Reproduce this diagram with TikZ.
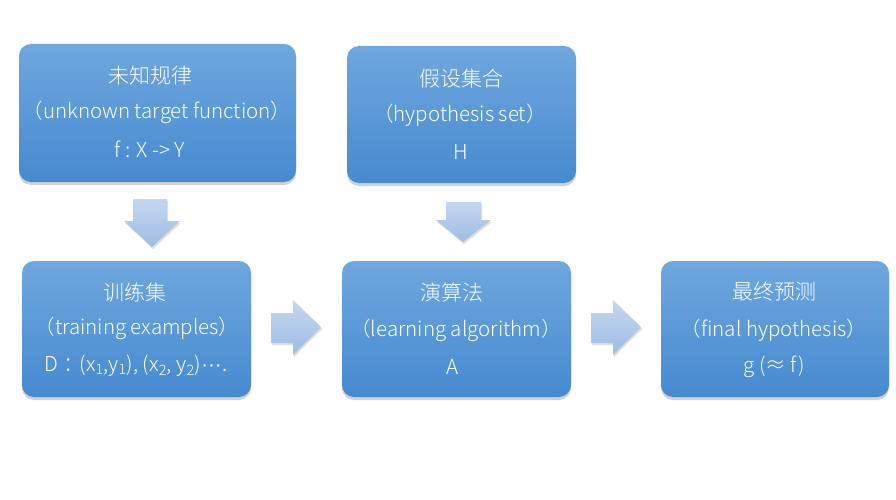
\documentclass[tikz,border=0pt]{standalone}
\usepackage{fontspec}
\setmainfont{Noto Sans CJK SC}[UprightFont=* Light]
\newfontfamily\latinfont{Liberation Sans}
\usetikzlibrary{shadows}
\definecolor{boxtop}{HTML}{6FA7DE}
\definecolor{boxbot}{HTML}{468AD0}
\definecolor{arrtop}{HTML}{C3D7EF}
\definecolor{arrbot}{HTML}{9DBCE3}
\tikzset{
  bluebox/.style={draw=none, rounded corners=12pt, top color=boxtop, bottom color=boxbot,
    drop shadow={opacity=0.35, shadow xshift=0pt, shadow yshift=-3pt}},
  txt/.style={text=white, font=\fontsize{20.5}{24}\selectfont, inner sep=0pt, anchor=center},
  ttl/.style={txt, font=\fontsize{21}{24}\selectfont},
  blockarrow/.style={draw=none, top color=arrtop, bottom color=arrbot,
    drop shadow={opacity=0.25, shadow xshift=1pt, shadow yshift=-2pt}}
}
\begin{document}
\begin{tikzpicture}[x=1pt,y=-1pt]
\useasboundingbox (0,0) rectangle (896,500);
\fill[white] (0,0) rectangle (896,500);
% boxes
\path[bluebox] (19,44) rectangle (296,182);
\path[bluebox] (347,46) rectangle (576,183);
\path[bluebox] (22,261) rectangle (251,397);
\path[bluebox] (342,261) rectangle (571,397);
\path[bluebox] (661,261) rectangle (889,397);
% box 1
\node[ttl] (t1a) at (150,75) {未知规律};
\node[txt] (t1b) at (157,112) {（unknown target function）};
\node[txt] (t1c) at (150,149) {f : X -> Y};
% box 2
\node[ttl] (t2a) at (461,79) {假设集合};
\node[txt] (t2b) at (460,115) {（hypothesis set）};
\node[txt] (t2c) at (461,152) {H};
% box 3
\node[ttl] (t3a) at (135,292) {训练集};
\node[txt] (t3b) at (137,328) {（training examples）};
\node[txt] (t3c) at (136,366) {D\hspace{5pt}：\kern-4pt(x\textsubscript{1},y\textsubscript{1}), (x\textsubscript{2}, y\textsubscript{2}){\latinfont ···.}};
% box 4
\node[ttl] (t4a) at (452,293) {演算法};
\node[txt] (t4b) at (456,330) {（learning algorithm）};
\node[txt] (t4c) at (453,367) {A};
% box 5
\node[ttl] (t5a) at (774,292) {最终预测};
\node[txt] (t5b) at (774,330) {（final hypothesis）};
\node[txt] (t5c) at (774,367) {g (≈ f)};
% block arrows
\path[blockarrow] (133,199) -- (167,199) -- (167,221) -- (180,221) -- (152,247) -- (124,221) -- (133,221) -- cycle;
\path[blockarrow] (446,202) -- (481,202) -- (481,220) -- (491,220) -- (463,242) -- (436,220) -- (446,220) -- cycle;
\path[blockarrow] (271,313) -- (293,313) -- (293,300) -- (321,327) -- (293,355) -- (293,343) -- (271,343) -- cycle;
\path[blockarrow] (591,313) -- (613,313) -- (613,300) -- (641,327) -- (613,355) -- (613,343) -- (591,343) -- cycle;
\end{tikzpicture}
\end{document}
